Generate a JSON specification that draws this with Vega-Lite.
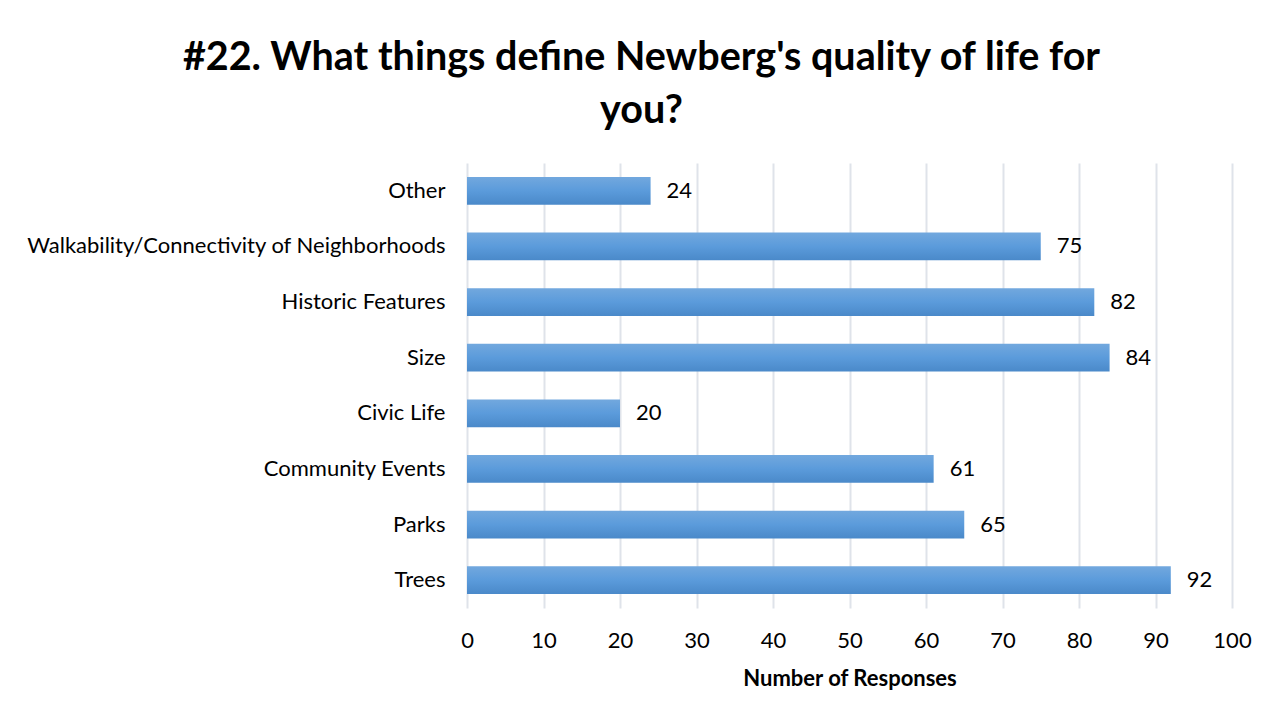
{
  "$schema": "https://vega.github.io/schema/vega-lite/v6.json",
  "autosize": {"type": "none"},
  "width": 765,
  "height": 445,
  "padding": {"left": 467, "top": 163, "right": 51, "bottom": 111},
  "background": "white",
  "title": {
    "text": ["#22. What things define Newberg's quality of life for", "you?"],
    "font": "Lato",
    "fontSize": 39.5,
    "fontWeight": "bold",
    "color": "#000000",
    "lineHeight": 53,
    "anchor": "middle",
    "frame": "group",
    "dx": -208,
    "offset": 32
  },
  "data": {
    "values": [
      {"category": "Other", "responses": 24},
      {"category": "Walkability/Connectivity of Neighborhoods", "responses": 75},
      {"category": "Historic Features", "responses": 82},
      {"category": "Size", "responses": 84},
      {"category": "Civic Life", "responses": 20},
      {"category": "Community Events", "responses": 61},
      {"category": "Parks", "responses": 65},
      {"category": "Trees", "responses": 92}
    ]
  },
  "encoding": {
    "y": {
      "field": "category",
      "type": "nominal",
      "sort": null,
      "scale": {"paddingInner": 0.5, "paddingOuter": 0.25},
      "axis": {
        "title": null,
        "domain": false,
        "ticks": false,
        "labelFont": "Lato",
        "labelFontSize": 22,
        "labelColor": "#000000",
        "labelPadding": 22,
        "labelLimit": 600
      }
    },
    "x": {
      "field": "responses",
      "type": "quantitative",
      "scale": {"domain": [0, 100], "nice": false},
      "axis": {
        "values": [0, 10, 20, 30, 40, 50, 60, 70, 80, 90, 100],
        "title": "Number of Responses",
        "titleFont": "Lato",
        "titleFontSize": 22,
        "titleFontWeight": "bold",
        "titleColor": "#000000",
        "titlePadding": 17,
        "domain": false,
        "ticks": false,
        "grid": true,
        "gridColor": "#dfe3ea",
        "gridWidth": 2,
        "labelFont": "Lato",
        "labelFontSize": 22,
        "labelColor": "#000000",
        "labelPadding": 22,
        "labelFlush": false
      }
    }
  },
  "layer": [
    {
      "mark": {
        "type": "bar",
        "color": {
          "gradient": "linear",
          "x1": 0, "y1": 0, "x2": 0, "y2": 1,
          "stops": [
            {"offset": 0, "color": "#72a8de"},
            {"offset": 0.5, "color": "#5b9bdb"},
            {"offset": 1, "color": "#4a89c9"}
          ]
        }
      }
    },
    {
      "mark": {
        "type": "text",
        "align": "left",
        "baseline": "middle",
        "dx": 16,
        "font": "Lato",
        "fontSize": 22,
        "color": "#000000"
      },
      "encoding": {"text": {"field": "responses", "type": "quantitative"}}
    }
  ],
  "config": {"view": {"stroke": null}}
}
